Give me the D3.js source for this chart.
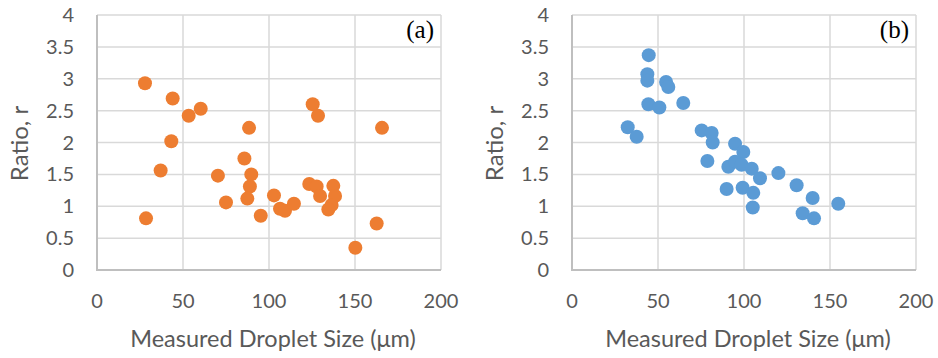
<!DOCTYPE html>
<html><head><meta charset="utf-8">
<script src="https://cdn.jsdelivr.net/npm/d3@7"></script>
<style>body{margin:0;background:#fff}svg{display:block}</style>
</head><body>
<svg id="chart" width="938" height="358"></svg>
<script>
const xTicks = [0, 50, 100, 150, 200];
const yTicks = [0, 0.5, 1, 1.5, 2, 2.5, 3, 3.5, 4];
const aX = [27.9, 44.0, 60.3, 53.3, 88.4, 43.2, 85.7, 37.0, 70.3, 89.7, 88.9, 87.4, 75.0, 28.5, 95.2,
            102.9, 106.4, 109.3, 114.5, 125.4, 128.5, 123.4, 127.7, 129.7, 137.4, 138.4, 136.4, 134.5,
            165.7, 162.6, 150.2];
const aY = [2.93, 2.69, 2.53, 2.42, 2.23, 2.02, 1.75, 1.56, 1.48, 1.50, 1.31, 1.12, 1.06, 0.81, 0.85,
            1.17, 0.96, 0.93, 1.04, 2.60, 2.42, 1.35, 1.31, 1.16, 1.32, 1.16, 1.02, 0.95,
            2.23, 0.73, 0.35];
const bX = [44.6, 43.8, 43.8, 54.7, 56.0, 44.4, 50.8, 64.7, 32.4, 37.6,
            75.4, 81.2, 81.8, 78.7, 94.8, 99.6, 90.9, 94.8, 98.6, 104.5, 109.3,
            89.9, 99.2, 105.4, 105.1, 120.0, 130.6, 139.9, 154.8, 134.1, 140.7];
const bY = [3.37, 3.07, 2.97, 2.95, 2.87, 2.60, 2.55, 2.62, 2.24, 2.09,
            2.19, 2.15, 2.00, 1.71, 1.98, 1.85, 1.62, 1.70, 1.65, 1.59, 1.44,
            1.27, 1.29, 1.21, 0.98, 1.52, 1.33, 1.13, 1.04, 0.89, 0.81];
const panels = [
  {label: "(a)", xs: aX, ys: aY, color: "#ED7D31", left: 97},
  {label: "(b)", xs: bX, ys: bY, color: "#5B9BD5", left: 572}
];

const svg = d3.select("#chart");
const font = "Lato, 'Open Sans', sans-serif";
const PW = 344, PTOP = 15, PBOT = 270;

panels.forEach(p => {
  const x = d3.scaleLinear().domain([0, 200]).range([p.left, p.left + PW]);
  const y = d3.scaleLinear().domain([0, 4]).range([PBOT, PTOP]);
  const g = svg.append("g");
  g.selectAll(".hg").data(yTicks.filter(t => t > 0)).enter().append("line")
    .attr("x1", x(0)).attr("x2", x(200)).attr("y1", d => y(d)).attr("y2", d => y(d))
    .attr("stroke", "#d9d9d9").attr("stroke-width", 1.5);
  g.selectAll(".vg").data(xTicks.filter(t => t > 0)).enter().append("line")
    .attr("x1", d => x(d)).attr("x2", d => x(d)).attr("y1", y(0)).attr("y2", y(4))
    .attr("stroke", "#d9d9d9").attr("stroke-width", 1.5);
  g.append("line").attr("x1", x(0)).attr("x2", x(0)).attr("y1", y(0)).attr("y2", y(4))
    .attr("stroke", "#bfbfbf").attr("stroke-width", 2);
  g.append("line").attr("x1", x(0) - 1).attr("x2", x(200)).attr("y1", y(0)).attr("y2", y(0))
    .attr("stroke", "#bfbfbf").attr("stroke-width", 2);
  g.selectAll(".yl").data(yTicks).enter().append("text")
    .attr("x", x(0) - 23).attr("y", d => y(d)).attr("dy", "0.35em")
    .attr("text-anchor", "end").attr("font-family", font).attr("font-size", 20)
    .attr("fill", "#595959").text(d => d);
  g.selectAll(".xl").data(xTicks).enter().append("text")
    .attr("x", d => x(d)).attr("y", 301).attr("dy", "0.35em")
    .attr("text-anchor", "middle").attr("font-family", font).attr("font-size", 20)
    .attr("fill", "#595959").text(d => d);
  g.append("text").attr("x", (x(0) + x(200)) / 2 + 4).attr("y", 339).attr("dy", "0.35em")
    .attr("text-anchor", "middle").attr("font-family", font).attr("font-size", 23.5)
    .attr("fill", "#595959").text("Measured Droplet Size (μm)");
  g.append("text").attr("transform", `translate(${x(0) - 77},${y(2) + 1}) rotate(-90)`)
    .attr("dy", "0.35em").attr("text-anchor", "middle").attr("font-family", font)
    .attr("font-size", 24).attr("fill", "#595959").text("Ratio, r");
  g.selectAll(".pt").data(p.xs.map((v, i) => [v, p.ys[i]])).enter().append("circle")
    .attr("cx", d => x(d[0])).attr("cy", d => y(d[1])).attr("r", 7)
    .attr("fill", p.color);
  g.append("text").attr("x", x(200) - 7).attr("y", y(4) + 23)
    .attr("text-anchor", "end").attr("font-family", "'Liberation Serif', 'Times New Roman', serif")
    .attr("font-size", 25).attr("fill", "#000").text(p.label);
});
</script>
</body></html>
